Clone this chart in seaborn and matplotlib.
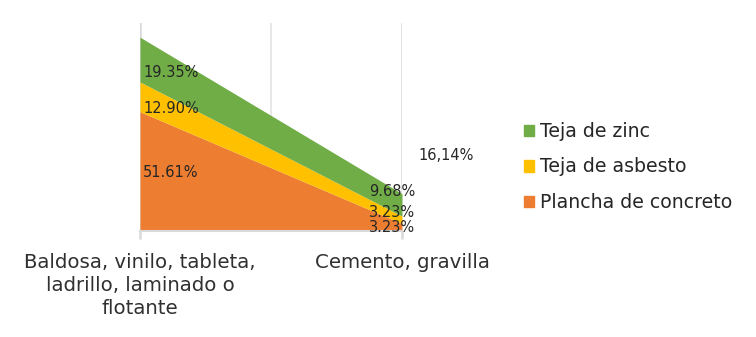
import matplotlib
matplotlib.use("Agg")
import matplotlib.pyplot as plt
import seaborn as sns
import pandas as pd
import numpy as np
from matplotlib.patches import Patch

categories = ["Baldosa, vinilo, tableta,\nladrillo, laminado o\nflotante", "Cemento, gravilla"]
series_names = ["Plancha de concreto", "Teja de asbesto", "Teja de zinc"]
plancha = [51.61, 3.23]
asbesto = [12.90, 3.23]
zinc = [19.35, 9.68]
extra_label = "16,14%"
colors = ["#ED7D31", "#FFC000", "#70AD47"]

sns.set_theme(style="white")
plt.rcParams['font.family'] = ['DejaVu Sans']

fig = plt.figure(figsize=(7.56, 3.37), dpi=100)
ax = fig.add_axes([140/756, 1-231/337, (402-140)/756, (231-23)/337])

df = pd.DataFrame({"x": [0, 1], "Plancha de concreto": plancha,
                   "Teja de asbesto": asbesto, "Teja de zinc": zinc})
ax.stackplot(df["x"], df[series_names].T.values, colors=colors, linewidth=0)

ax.set_xlim(0, 1)
ax.set_ylim(0, 90)
ax.axvline(0.5, color="#E3E3E3", lw=1.2, zorder=0)
for xv in [0, 1]:
    ax.axvline(xv, color="#D9D9D9", lw=1.8, zorder=0)
for s in ["top", "right", "left"]:
    ax.spines[s].set_visible(False)
ax.spines["bottom"].set_color("#D9D9D9")
ax.spines["bottom"].set_linewidth(1.5)
ax.set_yticks([])
ax.set_xticks([0, 1])
ax.set_xticklabels(categories, fontsize=14.2, color="#303030", linespacing=1.27)
ax.tick_params(axis="x", bottom=True, length=6, width=1.8, color="#D9D9D9", pad=10)
ax.set_xlabel("")
ax.set_ylabel("")

# data labels
vals = np.array([plancha, asbesto, zinc])
lab_kw = dict(fontsize=10.5, color="#262626", va="center")
left_y = [25.5, 53.2, 68.4]
for i in range(3):
    ax.text(0.012, left_y[i], f"{vals[i,0]:.2f}%", ha="left", **lab_kw)
right_y = [1.3, 8.2, 16.9]
for i in range(3):
    ax.text(1.05, right_y[i], f"{vals[i,1]:.2f}%", ha="right", **lab_kw)
fig.text(418/756, 1-156/337, extra_label, fontsize=10.5, color="#262626", ha="left", va="center")

handles = [Patch(color=colors[i], label=series_names[i]) for i in [2, 1, 0]]
leg = fig.legend(handles=handles, loc="center left", bbox_to_anchor=(507/756, 1-167/337),
                 frameon=False, fontsize=13.6, labelspacing=0.88, handlelength=0.55,
                 handleheight=0.55, handletextpad=0.3, labelcolor="#262626")

fig.savefig("out.png", dpi=100)
